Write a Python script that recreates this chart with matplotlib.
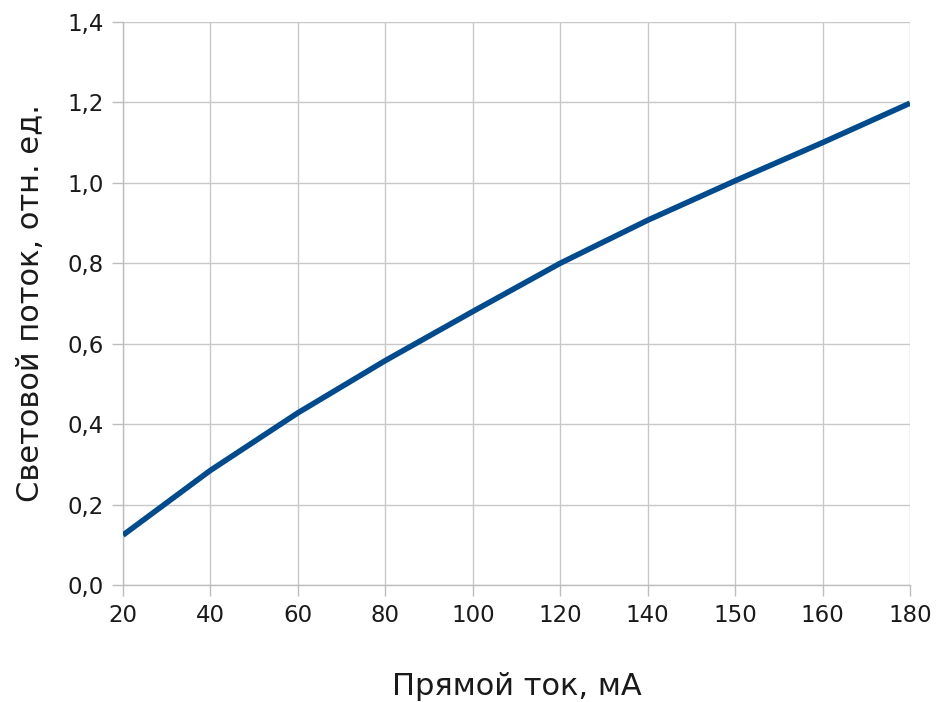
import matplotlib
matplotlib.use('Agg')
import matplotlib.pyplot as plt
import numpy as np

# forward current categories (evenly spaced on the chart)
current_labels = ['20', '40', '60', '80', '100', '120', '140', '150', '160', '180']
# relative luminous flux
flux = [0.124, 0.285, 0.428, 0.558, 0.680, 0.800, 0.907, 1.005, 1.100, 1.198]
y_ticks = [0.0, 0.2, 0.4, 0.6, 0.8, 1.0, 1.2, 1.4]

plt.rcParams['font.family'] = ['DejaVu Sans']

fig = plt.figure(figsize=(9.36, 7.02), dpi=100)
ax = fig.add_axes([0.1314, 0.1667, 0.8408, 0.802])

x = np.arange(len(current_labels))
ax.plot(x, flux, color='#004b8d', linewidth=4.0, solid_capstyle='butt',
        solid_joinstyle='round', zorder=3)

ax.set_xlim(0, len(current_labels) - 1)
ax.set_ylim(0, 1.4)
ax.set_xticks(x)
ax.set_xticklabels(current_labels)
ax.set_yticks(y_ticks)
ax.set_yticklabels([('%.1f' % v).replace('.', ',') for v in y_ticks])

ax.grid(True, color='#c8c8c8', linewidth=1.0)
ax.set_axisbelow(True)
for s in ['top', 'right']:
    ax.spines[s].set_visible(False)
for s in ['left', 'bottom']:
    ax.spines[s].set_color('#bdbdbd')
    ax.spines[s].set_linewidth(1.0)
ax.tick_params(axis='both', colors='#bdbdbd', length=8, width=1.0, labelcolor='#1a1a1a', labelsize=16.5, pad=6)

ax.set_xlabel('Прямой ток, мА', fontsize=22, color='#1a1a1a', labelpad=32)
ax.set_ylabel('Световой поток, отн. ед.', fontsize=22, color='#1a1a1a', labelpad=16)

fig.savefig('out.png', dpi=100)
